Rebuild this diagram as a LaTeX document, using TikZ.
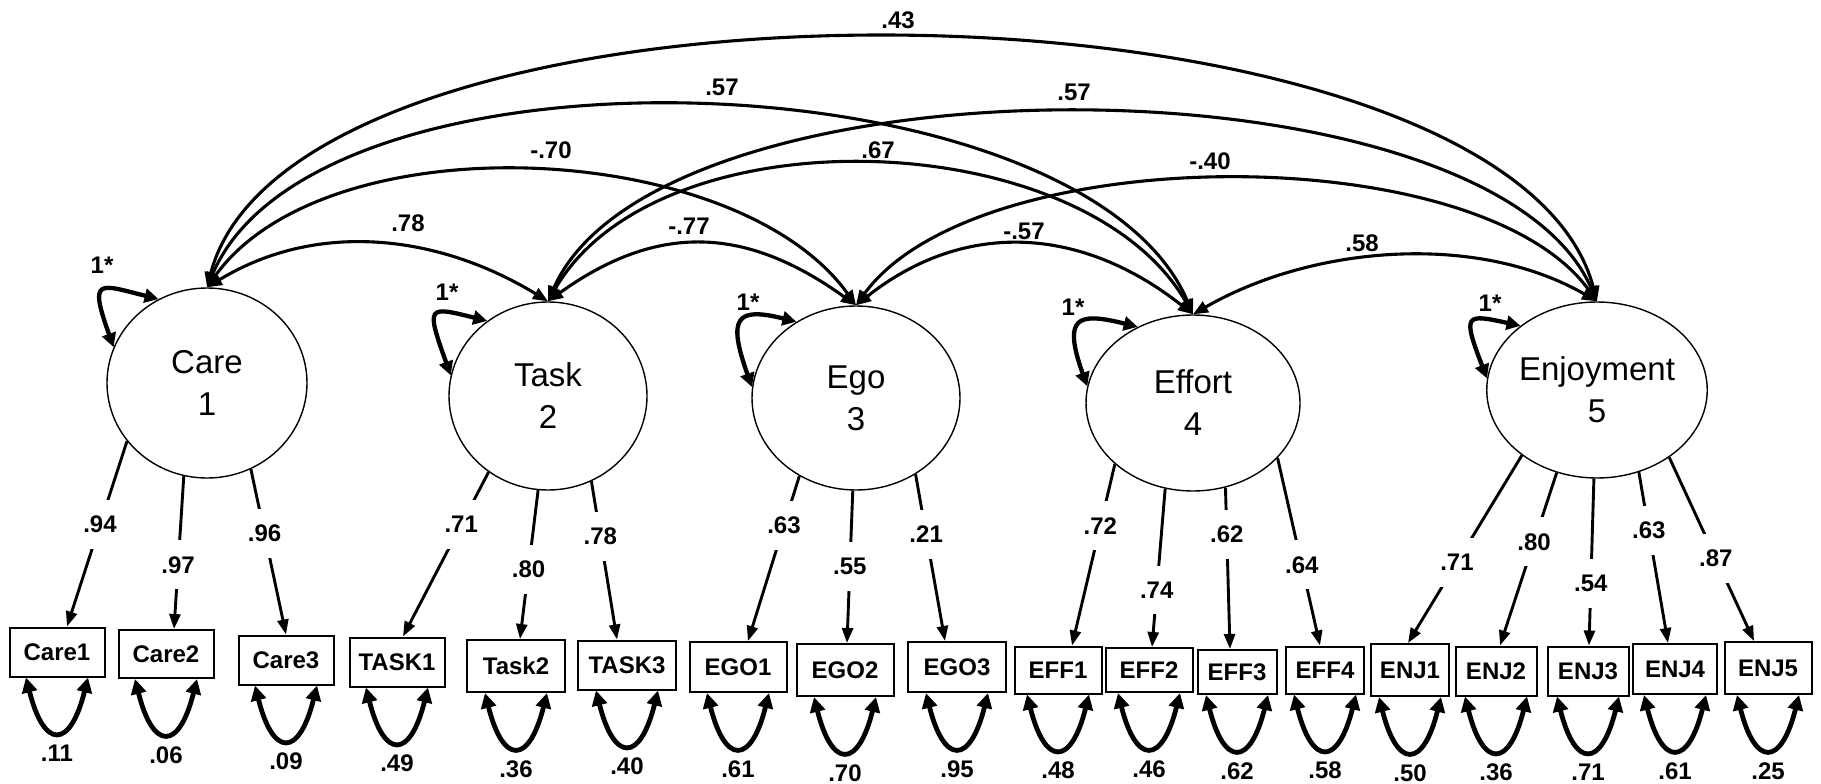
\documentclass[tikz,border=0pt]{standalone}
\usepackage{fontspec}
\setmainfont{Liberation Sans}
\usetikzlibrary{arrows.meta,shapes.geometric}

\begin{document}
\begin{tikzpicture}[x=1pt,y=-1pt,
  latent/.style={draw, ellipse, line width=1.4pt, inner sep=0pt, align=center,
    font=\fontsize{33}{42}\selectfont},
  indicator/.style={draw, rectangle, line width=2pt, inner sep=0pt,
    font=\fontsize{24}{28}\selectfont\bfseries},
  num/.style={font=\fontsize{24}{28}\selectfont\bfseries, inner sep=1pt},
  gapnum/.style={num, fill=white, inner xsep=3pt, inner ysep=16pt},
  cov/.style={line width=3.1pt,
    {Triangle[length=15pt,width=12pt]}-{Triangle[length=15pt,width=12pt]}},
  load/.style={line width=2.9pt, -{Triangle[length=15pt,width=11pt]}},
  selfloop/.style={line width=4.3pt,
    {Triangle[length=14pt,width=14pt]}-{Triangle[length=14pt,width=14pt]}},
  resid/.style={line width=4.8pt,
    {Triangle[length=15pt,width=15pt]}-{Triangle[length=15pt,width=15pt]}},
]
\useasboundingbox (0,0) rectangle (1821,784);

% latent factors
\node[latent, minimum width=200pt, minimum height=190pt] (care)   at (207,383)  {Care\\1};
\node[latent, minimum width=198pt, minimum height=188pt] (task)   at (548,396)  {Task\\2};
\node[latent, minimum width=208pt, minimum height=184pt] (ego)    at (856,398)  {Ego\\3};
\node[latent, minimum width=214pt, minimum height=176pt] (effort) at (1193,403) {Effort\\4};
\node[latent, minimum width=214pt, minimum height=176pt] (enj)    at (1597,390) {Enjoyment\\5};

% observed indicators
\foreach \n/\x/\y/\w/\h/\t in {
  care1/57/652/95/49/Care1, care2/166/654/95/48/Care2, care3/286/660/95/49/Care3,
  task1/397/662/95/49/TASK1, task2/516/666/98/52/Task2, task3/627/665/98/49/TASK3,
  ego1/738/667/97/50/EGO1, ego2/845/670/97/52/EGO2, ego3/957/667/98/50/EGO3,
  eff1/1058/670/87/47/EFF1, eff2/1149/670/87/44/EFF2, eff3/1237/672/79/44/EFF3,
  eff4/1325/670/78/47/EFF4, enj1/1410/670/78/52/ENJ1, enj2/1496/671/81/49/ENJ2,
  enj3/1588/671/81/49/ENJ3, enj4/1675/669/84/50/ENJ4, enj5/1768/668/87/52/ENJ5}
  \node[indicator, minimum width=\w pt, minimum height=\h pt] (\n) at (\x,\y) {\t};

% factor loadings
\foreach \l/\a/\b/\dx/\t/\p in {
  care/216/care1/10/.94/0.45, care/256/care2/8/.97/0.58, care/297/care3/0/.96/0.39,
  task/232/task1/6/.71/0.32, task/264/task2/4/.80/0.53, task/297/task3/-10/.78/0.35,
  ego/234/ego1/10/.63/0.30, ego/268/ego2/2/.55/0.50, ego/308/ego3/-12/.21/0.36,
  effort/218/eff1/14/.72/0.34, effort/252/eff2/3/.74/0.64, effort/291/eff3/-7/.62/0.29,
  effort/327/eff4/-5/.64/0.57,
  enj/221/enj1/-2/.71/0.57, enj/244/enj2/4/.80/0.40, enj/268/enj3/1/.54/0.63,
  enj/297/enj4/-7/.63/0.34, enj/317/enj5/-14/.87/0.55}
  \draw[load] (\l.\a) -- ([xshift=\dx pt]\b.north) node[gapnum, pos=\p] {\t};

% residual variances
\foreach \b/\t in {care1/.11, care2/.06, care3/.09, task1/.49, task2/.36, task3/.40,
  ego1/.61, ego2/.70, ego3/.95, eff1/.48, eff2/.46, eff3/.62, eff4/.58,
  enj1/.50, enj2/.36, enj3/.71, enj4/.61, enj5/.25} {
  \draw[resid] ([xshift=-31pt]\b.south) .. controls +(18,72) and +(-18,72) .. ([xshift=31pt]\b.south);
  \node[num] (\b-res) at ([yshift=-76pt]\b.south) {\t};
}

% factor variances fixed at 1
\draw[selfloop] (care.159)   .. controls +(-25,-70) and +(-60,-15) .. (care.120);
\draw[selfloop] (task.168)   .. controls +(-25,-70) and +(-60,-15) .. (task.129);
\draw[selfloop] (ego.174)    .. controls +(-25,-70) and +(-60,-15) .. (ego.128);
\draw[selfloop] (effort.171) .. controls +(-25,-70) and +(-60,-15) .. (effort.126);
\draw[selfloop] (enj.174)    .. controls +(-25,-65) and +(-55,-12) .. (enj.140);
\node[num] (care-var)   at (102,265)  {1*};
\node[num] (task-var)   at (447,292)  {1*};
\node[num] (ego-var)    at (748,302)  {1*};
\node[num] (effort-var) at (1073,307) {1*};
\node[num] (enj-var)    at (1490,303) {1*};

% factor covariances
\draw[cov] (care.north)   .. controls +(110,-67)  and +(-110,-67)  .. (task.north);
\draw[cov] (care.north)   .. controls +(120,-167) and +(-120,-167) .. (ego.north);
\draw[cov] (care.north)   .. controls +(110,-259) and +(-110,-259) .. (effort.north);
\draw[cov] (care.north)   .. controls +(90,-341)  and +(-90,-341)  .. (enj.north);
\draw[cov] (task.north)   .. controls +(110,-79)  and +(-110,-79)  .. (ego.north);
\draw[cov] (task.north)   .. controls +(110,-191) and +(-110,-191) .. (effort.north);
\draw[cov] (task.north)   .. controls +(110,-251) and +(-110,-251) .. (enj.north);
\draw[cov] (ego.north)    .. controls +(110,-87)  and +(-110,-87)  .. (effort.north);
\draw[cov] (ego.north)    .. controls +(120,-165) and +(-120,-165) .. (enj.north);
\draw[cov] (effort.north) .. controls +(120,-69)  and +(-120,-69)  .. (enj.north);

\node[num] (c12) at (408,223)  {.78};
\node[num] (c13) at (551,150)  {-.70};
\node[num] (c14) at (722,87)   {.57};
\node[num] (c15) at (898,20)   {.43};
\node[num] (c23) at (689,226)  {-.77};
\node[num] (c24) at (878,150)  {.67};
\node[num] (c25) at (1074,92)  {.57};
\node[num] (c34) at (1024,231) {-.57};
\node[num] (c35) at (1210,161) {-.40};
\node[num] (c45) at (1362,243) {.58};
\end{tikzpicture}
\end{document}
